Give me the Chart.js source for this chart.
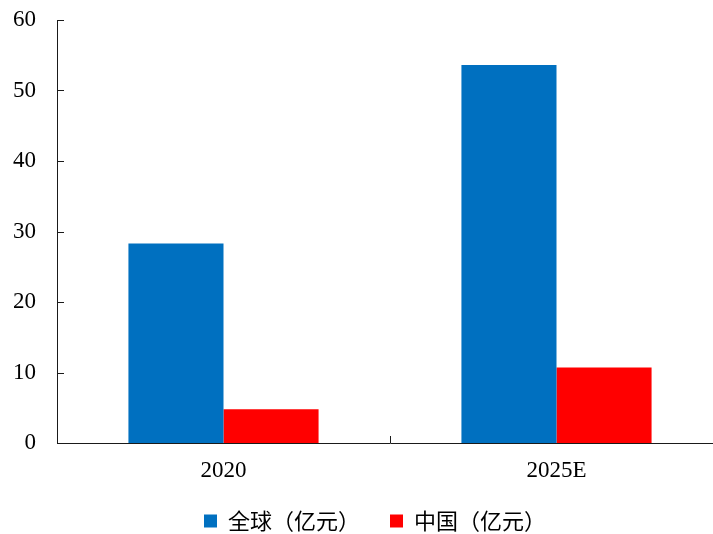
<!DOCTYPE html>
<html>
<head>
<meta charset="utf-8">
<script src="https://cdn.jsdelivr.net/npm/chart.js@4"></script>
<style>
    html, body { margin: 0; padding: 0; background: #ffffff; overflow: hidden; }
    #wrap { position: relative; width: 750px; height: 542px; }
</style>
</head>
<body>
<div id="wrap"><canvas id="marketChart"></canvas></div>
<script>
// Market size, 100M CNY
const years = ['2020', '2025E'];
const globalSize = [28.3, 53.6];
const chinaSize = [4.8, 10.7];
const seriesNames = ['全球（亿元）', '中国（亿元）'];
const yTicks = [0, 10, 20, 30, 40, 50, 60];

const axisColor = '#1a1a1a';
const serif = "'Liberation Serif', 'Times New Roman', serif";

// short tick marks pointing into the plot area
const innerTicks = {
    id: 'innerTicks',
    afterDatasetsDraw: (chart) => {
        const { ctx, chartArea, scales } = chart;
        ctx.save();
        ctx.strokeStyle = axisColor;
        ctx.lineWidth = 1;
        ctx.beginPath();
        scales.y.ticks.forEach((t, i) => {
            const y = Math.round(scales.y.getPixelForTick(i)) + 0.5;
            ctx.moveTo(chartArea.left, y);
            ctx.lineTo(chartArea.left + 7, y);
        });
        for (let i = 1; i < years.length; i++) {
            const x = Math.round((scales.x.getPixelForValue(i - 1) + scales.x.getPixelForValue(i)) / 2) + 0.5;
            ctx.moveTo(x, chartArea.bottom);
            ctx.lineTo(x, chartArea.bottom - 7);
        }
        ctx.stroke();
        ctx.restore();
    }
};

const ctx = document.getElementById('marketChart').getContext('2d');
new Chart(ctx, {
    type: 'bar',
    data: {
        labels: years,
        datasets: [
            {
                label: seriesNames[0],
                data: globalSize,
                backgroundColor: '#0070C0',
                borderWidth: 0
            },
            {
                label: seriesNames[1],
                data: chinaSize,
                backgroundColor: '#FF0000',
                borderWidth: 0
            }
        ]
    },
    options: {
        responsive: true,
        maintainAspectRatio: false,
        animation: false,
        layout: { padding: { top: 20, left: 0, right: 0, bottom: 0 } },
        datasets: {
            bar: { categoryPercentage: 0.571, barPercentage: 1.0 }
        },
        plugins: {
            tooltip: { enabled: false },
            legend: {
                position: 'bottom',
                labels: {
                    boxWidth: 13,
                    boxHeight: 13,
                    padding: 30,
                    color: '#000000',
                    font: { size: 22, family: "'Noto Sans CJK SC', sans-serif" }
                }
            }
        },
        scales: {
            x: {
                afterFit: (scale) => { scale.height = 37; },
                grid: { display: false, drawTicks: false },
                border: { display: true, color: axisColor, width: 1 },
                ticks: {
                    padding: 14,
                    color: '#000000',
                    font: { size: 23, family: serif }
                }
            },
            y: {
                min: yTicks[0],
                max: yTicks[yTicks.length - 1],
                afterFit: (scale) => {
                    scale.width = 57;
                    scale.paddingTop = 0;
                    scale.paddingBottom = 0;
                },
                afterBuildTicks: (scale) => { scale.ticks = yTicks.map(v => ({ value: v })); },
                grid: { display: false, drawTicks: false },
                border: { display: true, color: axisColor, width: 1 },
                ticks: {
                    padding: 21,
                    color: '#000000',
                    font: { size: 23, family: serif }
                }
            },
            // empty right-hand strip, keeps the plot edge where the axis line ends
            spacer: {
                type: 'linear',
                position: 'right',
                afterFit: (scale) => { scale.width = 27; },
                grid: { display: false, drawTicks: false },
                border: { display: false },
                ticks: { display: false }
            }
        }
    },
    plugins: [innerTicks]
});
</script>
</body>
</html>
